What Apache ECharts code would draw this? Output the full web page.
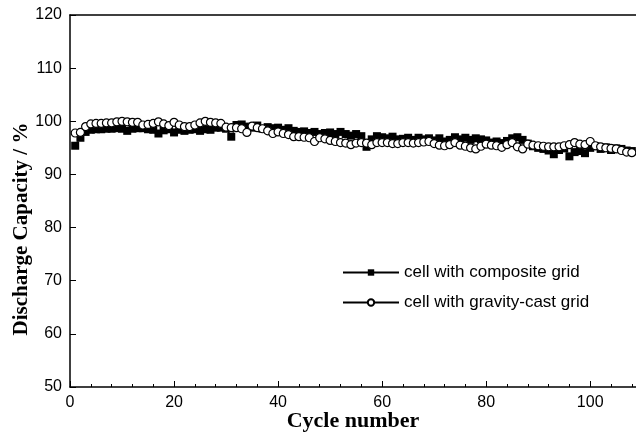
<!DOCTYPE html>
<html>
<head>
<meta charset="utf-8">
<script src="https://cdn.jsdelivr.net/npm/echarts@6/dist/echarts.min.js"></script>
<style>
  html, body { margin: 0; padding: 0; background: #fff; }
  #chartDiv { width: 636px; height: 434px; }
</style>
</head>
<body>
<div id="chartDiv"></div>
<script>
// values, one point per cycle (1..108)
const cycles = [];
for (let i = 1; i <= 108; i++) cycles.push(i);

const compositeGrid = [
    95.4, 96.9, 98.0, 98.4, 98.5, 98.5, 98.6, 98.6, 98.7, 98.6,
    98.2, 98.6, 98.7, 98.7, 98.5, 98.4, 97.7, 98.3, 98.5, 97.9,
    98.4, 98.2, 98.4, 98.5, 98.2, 98.5, 98.4, 98.8, 98.8, 98.6,
    97.1, 99.3, 99.4, 99.0, 98.8, 99.2, 98.6, 98.9, 98.7, 98.8,
    98.4, 98.7, 98.2, 98.0, 98.1, 97.8, 98.0, 97.6, 97.8, 97.9,
    97.6, 98.0, 97.6, 97.3, 97.6, 97.2, 95.2, 96.6, 97.2, 97.0,
    96.8, 97.1, 96.6, 96.7, 96.9, 96.5, 96.9, 96.6, 96.8, 96.4,
    96.8, 96.2, 96.5, 97.0, 96.6, 96.9, 96.5, 96.8, 96.6, 96.4,
    96.0, 96.2, 95.9, 96.3, 96.8, 97.0, 96.5, 95.8, 95.3, 95.0,
    94.8, 94.5, 93.8, 94.6, 94.9, 93.4, 94.2, 94.4, 94.0, 95.0,
    95.3, 94.8, 95.1, 94.6, 94.9, 94.8, 94.5, 94.4
];

const gravityCastGrid = [
    97.8, 97.9, 99.0, 99.5, 99.6, 99.6, 99.7, 99.7, 99.9, 100.0,
    99.9, 99.8, 99.8, 99.3, 99.4, 99.6, 99.9, 99.5, 99.2, 99.8,
    99.3, 99.0, 99.0, 99.3, 99.7, 100.0, 99.8, 99.7, 99.6, 98.9,
    98.8, 98.8, 98.6, 97.9, 99.1, 98.8, 98.6, 98.2, 97.7, 98.0,
    97.7, 97.5, 97.1, 97.1, 97.0, 96.9, 96.2, 96.9, 96.7, 96.4,
    96.2, 96.0, 95.9, 95.6, 95.9, 96.0, 95.9, 95.6, 96.0, 96.0,
    96.0, 95.8, 95.8, 96.0, 96.0, 95.9, 96.0, 96.1, 96.2, 95.8,
    95.5, 95.4, 95.6, 96.0, 95.5, 95.3, 95.0, 94.8, 95.3, 95.7,
    95.5, 95.4, 95.1, 95.6, 96.0, 95.2, 94.8, 95.7, 95.5, 95.4,
    95.3, 95.2, 95.2, 95.2, 95.4, 95.6, 96.0, 95.7, 95.6, 96.2,
    95.4, 95.2, 95.0, 94.9, 94.8, 94.5, 94.2, 94.1
];

const seriesNames = ["cell with composite grid", "cell with gravity-cast grid"];

let capacityChart = echarts.init(document.getElementById("chartDiv"));

function pairs(values) {
    return values.map((v, i) => [cycles[i], v]);
}

const tickFont = {
    color: "#000",
    fontSize: 16,
    fontFamily: "Liberation Sans",
};

let options = {
    animation: false,
    backgroundColor: "#fff",
    grid: {
        left: 70,
        right: 0,
        top: 15,
        bottom: 47,
        outerBoundsMode: "none",
    },
    legend: {
        orient: "vertical",
        left: 337,
        top: 259,
        itemGap: 13,
        itemWidth: 56,
        itemHeight: 8,
        textStyle: {
            color: "#000",
            fontSize: 17,
            fontFamily: "Liberation Sans",
        },
        data: seriesNames,
    },
    xAxis: [
        {
            type: "value",
            min: 0,
            max: 108.8,
            interval: 20,
            name: "Cycle number",
            nameLocation: "middle",
            nameGap: 23,
            nameMoveOverlap: false,
            nameTextStyle: {
                color: "#000",
                fontSize: 22,
                fontWeight: "bold",
                fontFamily: "Liberation Serif",
            },
            axisLine: { lineStyle: { color: "#000", width: 1.5 } },
            axisTick: { inside: true, length: 6, lineStyle: { color: "#000" } },
            minorTick: { show: true, splitNumber: 5, length: 3, lineStyle: { color: "#000" } },
            axisLabel: Object.assign({ margin: 8, showMaxLabel: false }, tickFont),
            splitLine: { show: false },
        },
        {
            type: "value",
            position: "top",
            min: 0,
            max: 108.8,
            axisLine: { show: true, onZero: false, lineStyle: { color: "#000", width: 1.5 } },
            axisTick: { show: false },
            axisLabel: { show: false },
            splitLine: { show: false },
        },
    ],
    yAxis: {
        type: "value",
        min: 50,
        max: 120,
        interval: 10,
        name: "Discharge Capacity / %",
        nameLocation: "middle",
        nameGap: 38,
        nameMoveOverlap: false,
        nameTextStyle: {
            color: "#000",
            fontSize: 21,
            fontWeight: "bold",
            fontFamily: "Liberation Serif",
            padding: [0, 56, 0, 0],
        },
        axisLine: { show: true, lineStyle: { color: "#000", width: 1.5 } },
        axisTick: { inside: true, length: 6, lineStyle: { color: "#000" } },
        axisLabel: Object.assign({ margin: 8 }, tickFont),
        splitLine: { show: false },
    },
    series: [
        {
            name: seriesNames[0],
            type: "line",
            data: pairs(compositeGrid),
            symbol: "rect",
            symbolSize: 8,
            showAllSymbol: true,
            lineStyle: { color: "#000", width: 1 },
            itemStyle: { color: "#000" },
        },
        {
            name: seriesNames[1],
            type: "line",
            data: pairs(gravityCastGrid),
            symbol: "circle",
            symbolSize: 8,
            showAllSymbol: true,
            lineStyle: { color: "#000", width: 1 },
            itemStyle: { color: "#fff", borderColor: "#000", borderWidth: 1.2 },
        },
    ],
};
capacityChart.setOption(options);
</script>
</body>
</html>
